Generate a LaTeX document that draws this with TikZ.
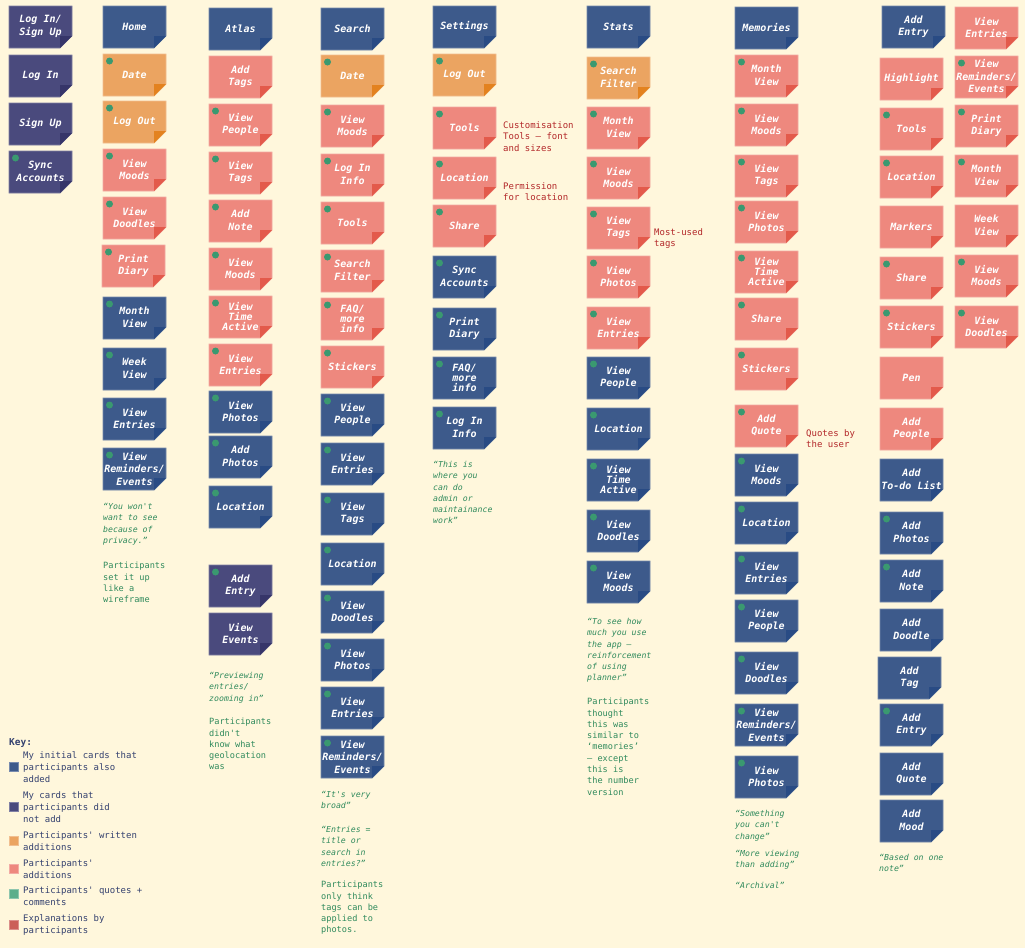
\documentclass[tikz,border=0pt]{standalone}
\usepackage{fontspec}
\newfontfamily\monof{DejaVu Sans Mono}

\definecolor{paper}{HTML}{FFF7DC}
\definecolor{cBlue}{HTML}{3D5A8B}
\definecolor{cBlueF}{HTML}{294B84}
\definecolor{cPurp}{HTML}{4A4A7D}
\definecolor{cPurpF}{HTML}{363569}
\definecolor{cOran}{HTML}{EBA461}
\definecolor{cOranF}{HTML}{E3821F}
\definecolor{cPink}{HTML}{EE887E}
\definecolor{cPinkF}{HTML}{E35A4B}
\definecolor{dotgreen}{HTML}{3A9970}
\definecolor{quotegreen}{HTML}{2F8A5C}
\definecolor{notered}{HTML}{B3282A}
\definecolor{keyblue}{HTML}{34416F}
\definecolor{keygreen}{HTML}{5DAE8B}
\definecolor{keyred}{HTML}{CB5F58}

\tikzset{
  cardlabel/.style={text=white, font={\monof\bfseries\itshape\fontsize{10}{12.5}\selectfont}, align=center, inner sep=0pt},
  quotetext/.style={text=quotegreen, font={\monof\itshape\fontsize{8.2}{11.3}\selectfont}, align=left, inner sep=0pt, anchor=north west},
  commenttext/.style={text=quotegreen, font={\monof\fontsize{8.6}{11.3}\selectfont}, align=left, inner sep=0pt, anchor=north west},
  explaintext/.style={text=notered, font={\monof\fontsize{9}{11.6}\selectfont}, align=left, inner sep=0pt, anchor=north west},
  keytext/.style={text=keyblue, font={\monof\fontsize{9}{12}\selectfont}, align=left, inner sep=0pt, anchor=north west},
  keyswatch/.style={line width=0.7pt},
}

% sticky note: name, x, y, colour, dot flag, label
\newcommand{\stickynote}[6]{%
  \fill[#4, draw=#4!72!white, line width=0.7pt] (#2,#3) -- ++(63,0) -- ++(0,30) -- ++(-12,12) -- ++(-51,0) -- cycle;
  \fill[#4F] (#2,#3) ++(51,30) -- ++(12,0) -- ++(-12,12) -- cycle;
  \ifnum#5=1 \fill[dotgreen] (#2,#3) ++(6.5,7) circle (3.5pt);\fi
  \path (#2,#3) ++(31.5,20.5) node[cardlabel] (#1) {#6};
}

\begin{document}
\begin{tikzpicture}[x=1pt,y=-1pt]
\useasboundingbox (0,0) rectangle (1025,948);
\fill[paper] (0,0) rectangle (1025,948);

% ---- account cards
\stickynote{a1}{9}{6}{cPurp}{0}{Log In/\\Sign Up}
\stickynote{a2}{9}{55}{cPurp}{0}{Log In}
\stickynote{a3}{9}{103}{cPurp}{0}{Sign Up}
\stickynote{a4}{9}{151}{cPurp}{1}{Sync\\Accounts}

% ---- Home
\stickynote{b1}{103}{6}{cBlue}{0}{Home}
\stickynote{b2}{103}{54}{cOran}{1}{Date}
\stickynote{b3}{103}{101}{cOran}{1}{Log Out}
\stickynote{b4}{103}{149}{cPink}{1}{View\\Moods}
\stickynote{b5}{103}{197}{cPink}{1}{View\\Doodles}
\stickynote{b6}{102}{245}{cPink}{1}{Print\\Diary}
\stickynote{b7}{103}{297}{cBlue}{1}{Month\\View}
\stickynote{b8}{103}{348}{cBlue}{1}{Week\\View}
\stickynote{b9}{103}{398}{cBlue}{1}{View\\Entries}
\stickynote{b10}{103}{448}{cBlue}{1}{View\\Reminders/\\Events}
\node[quotetext] (bq) at (103,503) {“You won't\\want to see\\because of\\privacy.”};
\node[commenttext] (bc) at (103,562) {Participants\\set it up\\like a\\wireframe};

% ---- Atlas
\stickynote{c1}{209}{8}{cBlue}{0}{Atlas}
\stickynote{c2}{209}{56}{cPink}{0}{Add\\Tags}
\stickynote{c3}{209}{104}{cPink}{1}{View\\People}
\stickynote{c4}{209}{152}{cPink}{1}{View\\Tags}
\stickynote{c5}{209}{200}{cPink}{1}{Add\\Note}
\stickynote{c6}{209}{248}{cPink}{1}{View\\Moods}
\stickynote{c7}{209}{296}{cPink}{1}{View\\[-2.5pt]Time\\[-2.5pt]Active}
\stickynote{c8}{209}{344}{cPink}{1}{View\\Entries}
\stickynote{c9}{209}{391}{cBlue}{1}{View\\Photos}
\stickynote{c10}{209}{436}{cBlue}{1}{Add\\Photos}
\stickynote{c11}{209}{486}{cBlue}{1}{Location}
\stickynote{c12}{209}{565}{cPurp}{1}{Add\\Entry}
\stickynote{c13}{209}{613}{cPurp}{0}{View\\Events}
\node[quotetext] (cq) at (209,672) {“Previewing\\entries/\\zooming in”};
\node[commenttext] (cc) at (209,718) {Participants\\didn't\\know what\\geolocation\\was};

% ---- Search
\stickynote{d1}{321}{8}{cBlue}{0}{Search}
\stickynote{d2}{321}{55}{cOran}{1}{Date}
\stickynote{d3}{321}{105}{cPink}{1}{View\\Moods}
\stickynote{d4}{321}{154}{cPink}{1}{Log In\\Info}
\stickynote{d5}{321}{202}{cPink}{1}{Tools}
\stickynote{d6}{321}{250}{cPink}{1}{Search\\Filter}
\stickynote{d7}{321}{298}{cPink}{1}{FAQ/\\[-2.5pt]more\\[-2.5pt]info}
\stickynote{d8}{321}{346}{cPink}{1}{Stickers}
\stickynote{d9}{321}{394}{cBlue}{1}{View\\People}
\stickynote{d10}{321}{443}{cBlue}{1}{View\\Entries}
\stickynote{d11}{321}{493}{cBlue}{1}{View\\Tags}
\stickynote{d12}{321}{543}{cBlue}{1}{Location}
\stickynote{d13}{321}{591}{cBlue}{1}{View\\Doodles}
\stickynote{d14}{321}{639}{cBlue}{1}{View\\Photos}
\stickynote{d15}{321}{687}{cBlue}{1}{View\\Entries}
\stickynote{d16}{321}{736}{cBlue}{1}{View\\Reminders/\\Events}
\node[quotetext] (dq1) at (321,791) {“It's very\\broad”};
\node[quotetext] (dq2) at (321,826) {“Entries =\\title or\\search in\\entries?”};
\node[commenttext] (dc) at (321,881) {Participants\\only think\\tags can be\\applied to\\photos.};

% ---- Settings
\stickynote{e1}{433}{6}{cBlue}{0}{Settings}
\stickynote{e2}{433}{54}{cOran}{1}{Log Out}
\stickynote{e3}{433}{107}{cPink}{1}{Tools}
\stickynote{e4}{433}{157}{cPink}{1}{Location}
\stickynote{e5}{433}{205}{cPink}{1}{Share}
\stickynote{e6}{433}{256}{cBlue}{1}{Sync\\Accounts}
\stickynote{e7}{433}{308}{cBlue}{1}{Print\\Diary}
\stickynote{e8}{433}{357}{cBlue}{1}{FAQ/\\[-2.5pt]more\\[-2.5pt]info}
\stickynote{e9}{433}{407}{cBlue}{1}{Log In\\Info}
\node[explaintext] (ex1) at (503,121) {Customisation\\Tools – font\\and sizes};
\node[explaintext] (ex2) at (503,182) {Permission\\for location};
\node[quotetext] (eq) at (433,461) {“This is\\where you\\can do\\admin or\\maintainance\\work”};

% ---- Stats
\stickynote{f1}{587}{6}{cBlue}{0}{Stats}
\stickynote{f2}{587}{57}{cOran}{1}{Search\\Filter}
\stickynote{f3}{587}{107}{cPink}{1}{Month\\View}
\stickynote{f4}{587}{157}{cPink}{1}{View\\Moods}
\stickynote{f5}{587}{207}{cPink}{1}{View\\Tags}
\stickynote{f6}{587}{256}{cPink}{1}{View\\Photos}
\stickynote{f7}{587}{307}{cPink}{1}{View\\Entries}
\stickynote{f8}{587}{357}{cBlue}{1}{View\\People}
\stickynote{f9}{587}{408}{cBlue}{1}{Location}
\stickynote{f10}{587}{459}{cBlue}{1}{View\\[-2.5pt]Time\\[-2.5pt]Active}
\stickynote{f11}{587}{510}{cBlue}{1}{View\\Doodles}
\stickynote{f12}{587}{561}{cBlue}{1}{View\\Moods}
\node[explaintext] (ex3) at (654,228) {Most-used\\tags};
\node[quotetext] (fq) at (587,618) {“To see how\\much you use\\the app –\\reinforcement\\of using\\planner”};
\node[commenttext] (fc) at (587,698) {Participants\\thought\\this was\\similar to\\‘memories’\\– except\\this is\\the number\\version};

% ---- Memories
\stickynote{g1}{735}{7}{cBlue}{0}{Memories}
\stickynote{g2}{735}{55}{cPink}{1}{Month\\View}
\stickynote{g3}{735}{104}{cPink}{1}{View\\Moods}
\stickynote{g4}{735}{155}{cPink}{1}{View\\Tags}
\stickynote{g5}{735}{201}{cPink}{1}{View\\Photos}
\stickynote{g6}{735}{251}{cPink}{1}{View\\[-2.5pt]Time\\[-2.5pt]Active}
\stickynote{g7}{735}{298}{cPink}{1}{Share}
\stickynote{g8}{735}{348}{cPink}{1}{Stickers}
\stickynote{g9}{735}{405}{cPink}{1}{Add\\Quote}
\stickynote{g10}{735}{454}{cBlue}{1}{View\\Moods}
\stickynote{g11}{735}{502}{cBlue}{1}{Location}
\stickynote{g12}{735}{552}{cBlue}{1}{View\\Entries}
\stickynote{g13}{735}{600}{cBlue}{1}{View\\People}
\stickynote{g14}{735}{652}{cBlue}{1}{View\\Doodles}
\stickynote{g15}{735}{704}{cBlue}{1}{View\\Reminders/\\Events}
\stickynote{g16}{735}{756}{cBlue}{1}{View\\Photos}
\node[explaintext] (ex4) at (806,429) {Quotes by\\the user};
\node[quotetext] (gq1) at (735,810) {“Something\\you can't\\change”};
\node[quotetext] (gq2) at (735,850) {“More viewing\\than adding”};
\node[quotetext] (gq3) at (735,882) {“Archival”};

% ---- Add Entry
\stickynote{h1}{882}{6}{cBlue}{0}{Add\\Entry}
\stickynote{h2}{880}{58}{cPink}{0}{Highlight}
\stickynote{h3}{880}{108}{cPink}{1}{Tools}
\stickynote{h4}{880}{156}{cPink}{1}{Location}
\stickynote{h5}{880}{206}{cPink}{0}{Markers}
\stickynote{h6}{880}{257}{cPink}{1}{Share}
\stickynote{h7}{880}{306}{cPink}{1}{Stickers}
\stickynote{h8}{880}{357}{cPink}{0}{Pen}
\stickynote{h9}{880}{408}{cPink}{0}{Add\\People}
\stickynote{h10}{880}{459}{cBlue}{0}{Add\\To-do List}
\stickynote{h11}{880}{512}{cBlue}{1}{Add\\Photos}
\stickynote{h12}{880}{560}{cBlue}{1}{Add\\Note}
\stickynote{h13}{880}{609}{cBlue}{0}{Add\\Doodle}
\stickynote{h14}{878}{657}{cBlue}{0}{Add\\Tag}
\stickynote{h15}{880}{704}{cBlue}{1}{Add\\Entry}
\stickynote{h16}{880}{753}{cBlue}{0}{Add\\Quote}
\stickynote{h17}{880}{800}{cBlue}{0}{Add\\Mood}
\node[quotetext] (hq) at (879,854) {“Based on one\\note”};

% ---- extra views
\stickynote{i1}{955}{7}{cPink}{0}{View\\Entries}
\stickynote{i2}{955}{56}{cPink}{1}{View\\Reminders/\\Events}
\stickynote{i3}{955}{105}{cPink}{1}{Print\\Diary}
\stickynote{i4}{955}{155}{cPink}{1}{Month\\View}
\stickynote{i5}{955}{205}{cPink}{0}{Week\\View}
\stickynote{i6}{955}{255}{cPink}{1}{View\\Moods}
\stickynote{i7}{955}{306}{cPink}{1}{View\\Doodles}

% ---- key
\node[keytext, font={\monof\bfseries\fontsize{9.5}{12}\selectfont}] (key) at (9,738) {Key:};
\fill[keyswatch, cBlue, draw=cBlue!70!white] (9.5,762.5) rectangle ++(9,9);
\node[keytext] (k1) at (23,751) {My initial cards that\\participants also\\added};
\fill[keyswatch, cPurp, draw=cPurp!70!white] (9.5,802.5) rectangle ++(9,9);
\node[keytext] (k2) at (23,791) {My cards that\\participants did\\not add};
\fill[keyswatch, cOran, draw=cOran!70!white] (9.5,836.5) rectangle ++(9,9);
\node[keytext] (k3) at (23,831) {Participants' written\\additions};
\fill[keyswatch, cPink, draw=cPink!70!white] (9.5,864.5) rectangle ++(9,9);
\node[keytext] (k4) at (23,859) {Participants'\\additions};
\fill[keyswatch, keygreen, draw=keygreen!70!white] (9.5,889.5) rectangle ++(9,9);
\node[keytext] (k5) at (23,886) {Participants' quotes +\\comments};
\fill[keyswatch, keyred, draw=keyred!70!white] (9.5,920.5) rectangle ++(9,9);
\node[keytext] (k6) at (23,914) {Explanations by\\participants};
\end{tikzpicture}
\end{document}
